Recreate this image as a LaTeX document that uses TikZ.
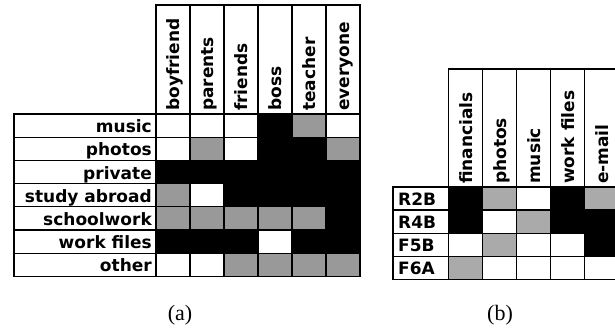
\documentclass[tikz,border=0pt]{standalone}
\usepackage{fontspec}
\setmainfont{Liberation Serif}
\newfontfamily\cellfont{DejaVu Sans}
\newcommand\gridfont{\cellfont\bfseries\fontsize{17}{18}\selectfont}
\definecolor{grayA}{HTML}{999999}
\definecolor{grayB}{HTML}{AAAAAA}

\begin{document}
\begin{tikzpicture}[x=1pt, y=-1pt,
        cell/.style={draw=black, line width=1.3pt},
        lbl/.style={font=\gridfont, inner sep=0pt},
        head/.style={font=\gridfont, inner sep=0pt, rotate=90, anchor=base west},
        capt/.style={font=\fontsize{22}{24}\selectfont, inner sep=0pt}]
    \useasboundingbox (0,0) rectangle (615,330);
    % (a) who may see what
    \foreach \who [count=\j from 0] in {boyfriend,parents,friends,boss,teacher,everyone} {
        \draw[cell] ({156+\j*34},5) rectangle ({190+\j*34},114);
        \node[head] (H\j) at ({179.5+\j*34},111) {\who};
    }
    \foreach \what/\vals [count=\i from 0] in {
            music/{white,white,white,black,grayA,white},
            photos/{white,grayA,white,black,black,grayA},
            private/{black,black,black,black,black,black},
            study abroad/{grayA,white,black,black,black,black},
            schoolwork/{grayA,grayA,grayA,grayA,grayA,black},
            work files/{black,black,black,white,black,black},
            other/{white,white,grayA,grayA,grayA,grayA}} {
        \draw[cell, fill=white] (14,{114+\i*23.2}) rectangle (156,{137.2+\i*23.2});
        \node[lbl, anchor=base east] (W\i) at (152,{132.6+\i*23.2}) {\what};
        \foreach \c [count=\j from 0] in \vals
            \draw[cell, fill=\c] ({156+\j*34},{114+\i*23.2}) rectangle ({190+\j*34},{137.2+\i*23.2});
    }
    \node[capt] (CA) at (180,315) {(a)};
    % (b) devices
    \foreach \what [count=\j from 0] in {financials,photos,music,work files,e-mail} {
        \draw[cell] ({448.5+\j*34},69) rectangle ({482.5+\j*34},187);
        \node[head] (K\j) at ({472+\j*34},184) {\what};
    }
    \foreach \dev/\vals [count=\i from 0] in {
            R2B/{black,grayB,white,black,grayB},
            R4B/{black,white,grayB,black,black},
            F5B/{white,grayB,white,white,black},
            F6A/{grayB,white,white,white,white}} {
        \draw[cell, fill=white] (393,{187+\i*23.1}) rectangle (448.5,{210.1+\i*23.1});
        \node[lbl, anchor=base west] (D\i) at (398,{205.5+\i*23.1}) {\dev};
        \foreach \c [count=\j from 0] in \vals
            \draw[cell, fill=\c] ({448.5+\j*34},{187+\i*23.1}) rectangle ({482.5+\j*34},{210.1+\i*23.1});
    }
    \node[capt] (CB) at (500,315) {(b)};
\end{tikzpicture}
\end{document}
